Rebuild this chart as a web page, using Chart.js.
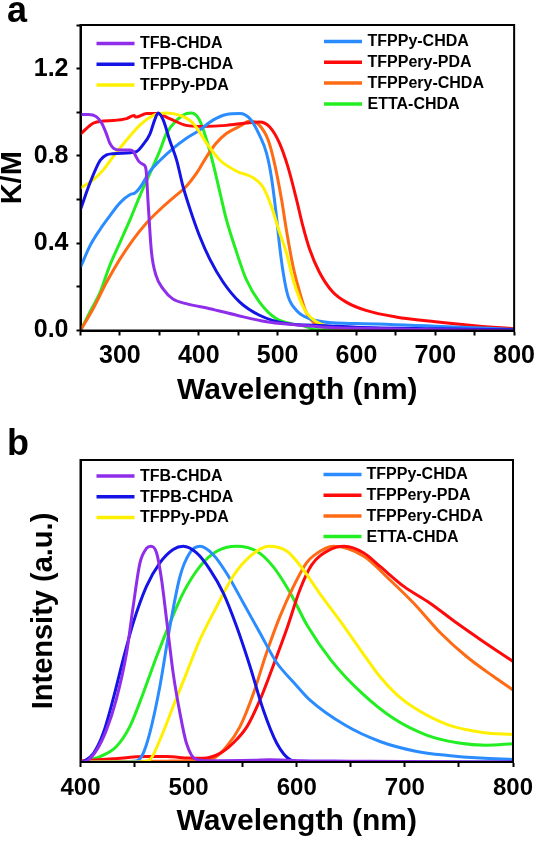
<!DOCTYPE html>
<html><head><meta charset="utf-8">
<script src="https://cdn.jsdelivr.net/npm/chart.js@4.4.1/dist/chart.umd.min.js"></script>
<style>
html,body{margin:0;padding:0;background:#fff;width:541px;height:843px;overflow:hidden;}
#wa{position:absolute;left:0;top:0;width:541px;height:412px;}
#wb{position:absolute;left:0;top:412px;width:541px;height:431px;}
</style></head><body>
<div id="wa"><canvas id="ca" width="541" height="412"></canvas></div>
<div id="wb"><canvas id="cb" width="541" height="431"></canvas></div>
<script>
// ---------- data: panel a (K/M absorption), [wavelength nm, value] ----------
const seriesLabels = ['TFB-CHDA','TFPB-CHDA','TFPPy-PDA','TFPPy-CHDA','TFPPery-PDA','TFPPery-CHDA','ETTA-CHDA'];
const seriesColors = ['#8E2EEA','#1414E6','#FFF000','#2A8CFF','#FF0A0A','#FF6A14','#22EE22'];

const absTFB_CHDA = [[250,0.99],[260,0.99],[270,0.98],[277,0.95],[283,0.9],[287,0.86],[292,0.835],[300,0.827],[313,0.827],[317,0.82],[320,0.8],[324,0.775],[330,0.76],[333,0.74],[336,0.57],[340,0.36],[346,0.25],[355,0.19],[367,0.145],[384,0.123],[414,0.1],[448,0.07],[486,0.04],[519,0.027],[560,0.015],[600,0.01],[700,0.004],[800,0.0]];
const absTFPB_CHDA = [[250,0.555],[262,0.676],[275,0.78],[283,0.805],[291,0.81],[313,0.815],[321,0.82],[329,0.85],[338,0.9],[344,0.964],[348.5,0.997],[355,0.964],[363,0.873],[372,0.78],[380,0.66],[389,0.555],[401,0.433],[414,0.327],[431,0.221],[452,0.13],[477,0.07],[511,0.032],[560,0.022],[600,0.015],[700,0.008],[800,0.003]];
const absTFPPy_PDA = [[250,0.653],[266,0.69],[279,0.736],[291.5,0.797],[308.5,0.873],[325,0.94],[342,0.985],[359,0.997],[376,0.986],[393,0.949],[410,0.858],[427,0.78],[448,0.73],[469,0.7],[481,0.66],[492,0.57],[502.5,0.449],[511,0.358],[519.4,0.236],[528,0.145],[536,0.085],[549,0.04],[562,0.021],[600,0.01],[700,0.004],[800,0.0]];
const absTFPPy_CHDA = [[250,0.29],[262,0.388],[275,0.464],[287,0.524],[300,0.585],[313,0.623],[319,0.63],[325,0.653],[338,0.729],[351,0.78],[367.5,0.835],[384,0.88],[401,0.918],[418,0.964],[435,0.99],[452,0.994],[465,0.97],[477,0.895],[486,0.812],[492,0.706],[498,0.54],[502.5,0.388],[507,0.267],[513,0.16],[524,0.092],[540,0.055],[570,0.035],[600,0.032],[700,0.02],[800,0.005]];
const absTFPPery_PDA = [[250,0.9],[266,0.95],[279,0.96],[291.5,0.962],[308.5,0.971],[318,0.985],[320,0.978],[334,0.994],[346.5,0.994],[363,0.971],[384,0.94],[405,0.935],[435,0.94],[460,0.951],[477,0.956],[490,0.933],[502.5,0.858],[513,0.751],[524,0.6],[532,0.479],[540.5,0.373],[553,0.267],[570,0.176],[587,0.13],[612,0.092],[650,0.062],[700,0.04],[750,0.022],[800,0.008]];
const absTFPPery_CHDA = [[250,0],[266,0.1],[283,0.221],[300,0.327],[317,0.418],[334,0.494],[351,0.555],[367.5,0.608],[384,0.66],[397,0.72],[410,0.797],[422,0.858],[435,0.903],[452,0.936],[465,0.96],[477,0.94],[488,0.873],[496,0.767],[505,0.6],[511,0.464],[519.4,0.297],[528,0.176],[536,0.085],[547,0.032],[557,0.017],[600,0.008],[700,0.003],[800,0]];
const absETTA_CHDA = [[250,0],[262,0.085],[275,0.176],[287,0.297],[300,0.403],[313,0.509],[325,0.615],[338,0.72],[351,0.827],[359,0.903],[372,0.964],[384,0.994],[391,0.997],[401,0.964],[410,0.873],[418,0.767],[427,0.63],[435,0.509],[448,0.358],[460,0.236],[477,0.13],[498,0.055],[536,0.018],[548,0.003],[600,0.002],[800,0.002]];

// ---------- data: panel b (PL intensity, normalised) ----------
const plTFB_CHDA = [[400,0],[405,0.003],[415,0.056],[424,0.149],[433,0.288],[442.6,0.505],[448.7,0.721],[455,0.923],[461,0.99],[465,1.0],[470.4,0.969],[475,0.845],[479.6,0.66],[485.7,0.412],[492,0.226],[498,0.087],[507,0.012],[520,0.006],[560,0.008],[575,0.01],[600,0.006],[650,0.004],[700,0.002],[800,0]];
const plTFPB_CHDA = [[400,0],[404,0.005],[412,0.04],[421,0.133],[430,0.288],[439.4,0.474],[448.7,0.644],[461,0.814],[473.4,0.923],[485.7,0.985],[495,1.0],[507.4,0.969],[519.7,0.892],[532,0.784],[544.4,0.628],[556.8,0.443],[569,0.242],[581.5,0.087],[594,0.01],[600,0.004],[680,0.002],[700,0],[800,0]];
const plTFPPy_PDA = [[400,0],[455,0],[464,0.01],[473.4,0.102],[485.7,0.257],[498,0.412],[510.5,0.567],[526,0.721],[541,0.86],[557,0.954],[574,1.0],[591,0.977],[606,0.892],[620,0.79],[645,0.62],[661,0.505],[677,0.395],[693,0.31],[709,0.25],[740,0.172],[772,0.137],[800,0.127]];
const plTFPPy_CHDA = [[400,0],[450,0.003],[457,0.03],[464,0.133],[473.4,0.35],[482.7,0.628],[492,0.86],[501,0.969],[510.5,1.0],[522.8,0.961],[535,0.876],[550.6,0.737],[566,0.598],[581.5,0.46],[597,0.37],[612,0.288],[645,0.17],[677,0.095],[710,0.05],[740,0.03],[770,0.018],[800,0.012]];
const plTFPPery_PDA = [[400,0.005],[430,0.015],[460,0.025],[480,0.025],[500,0.018],[513,0.017],[529,0.04],[541,0.087],[554,0.164],[566,0.288],[578,0.443],[591,0.62],[603,0.8],[614,0.915],[631,0.985],[644,1.0],[662,0.969],[677,0.907],[699,0.814],[723,0.737],[748,0.644],[770,0.567],[800,0.466]];
const plTFPPery_CHDA = [[400,0.002],[480,0.004],[510,0.006],[523,0.017],[535,0.071],[547.5,0.164],[560,0.319],[572,0.505],[584.5,0.675],[597,0.814],[609,0.923],[616,0.958],[634,1.0],[662,0.954],[686,0.845],[708,0.737],[733,0.598],[757,0.489],[782,0.396],[800,0.334]];
const plETTA_CHDA = [[400,0],[418,0.025],[433,0.071],[445.6,0.164],[458,0.319],[470.4,0.489],[482.7,0.644],[495,0.784],[510.5,0.907],[526,0.977],[544.4,1.0],[563,0.977],[578,0.907],[594,0.784],[610,0.63],[632,0.47],[660,0.32],[690,0.2],[720,0.125],[750,0.088],[775,0.078],[800,0.085]];

// axis ranges
const absXRange = [250, 800];
const absYRange = [0, 1.4];
const plXRange = [400, 800];
const plYRange = [0, 1.4];

const FAM = '"Liberation Sans", Arial, Helvetica, sans-serif';
Chart.defaults.font.family = FAM;
Chart.defaults.color = '#000';

const toPts = arr => arr.map(p => ({x: p[0], y: p[1]}));
function makeDatasets(list){
  return list.map((arr, i) => ({
    label: seriesLabels[i], data: toPts(arr), borderColor: seriesColors[i], backgroundColor: seriesColors[i],
    borderWidth: 3, pointRadius: 0, fill: false, cubicInterpolationMode: 'monotone'
  }));
}

const framePlugin = {
  id: 'frame',
  afterDraw(chart){
    const a = chart.chartArea, ctx = chart.ctx;
    ctx.save(); ctx.strokeStyle = '#000'; ctx.lineWidth = 2;
    ctx.strokeRect(a.left, a.top, a.right - a.left, a.bottom - a.top);
    ctx.restore();
  }
};
const colLegend = {
  id: 'colLegend',
  afterDraw(chart, args, o){
    const ctx = chart.ctx; ctx.save();
    ctx.font = 'bold 16px ' + FAM; ctx.textBaseline = 'middle'; ctx.fillStyle = '#000';
    chart.data.datasets.forEach((ds, i) => {
      const col = i < o.split ? 0 : 1;
      const row = col === 0 ? i : i - o.split;
      const c = o.columns[col];
      const y = c.y + row * o.gap;
      ctx.strokeStyle = ds.borderColor; ctx.lineWidth = 3.5; ctx.lineCap = 'butt';
      ctx.beginPath(); ctx.moveTo(c.x0, y); ctx.lineTo(c.x1, y); ctx.stroke();
      ctx.fillText(ds.label, c.tx, y + 0.5);
    });
    ctx.restore();
  }
};
const panelLabel = {
  id: 'panelLabel',
  afterDraw(chart, args, o){
    const ctx = chart.ctx; ctx.save();
    ctx.font = 'bold 36px ' + FAM; ctx.textBaseline = 'alphabetic'; ctx.fillStyle = '#000';
    ctx.fillText(o.text, o.x, o.y); ctx.restore();
  }
};

function xAxis(range, size, pad, h, titlePad){
  return {
    type: 'linear', min: range[0], max: range[1],
    ticks: {stepSize: 50, autoSkip: false, maxRotation: 0, padding: pad, color: '#000',
      font: {size: size, weight: 'bold'}, callback: v => (v % 100 === 0 ? String(v) : '')},
    grid: {display: true, drawOnChartArea: false, drawTicks: true, tickLength: 5, tickWidth: 2, tickColor: '#000'},
    border: {display: true, color: '#000', width: 2},
    title: {display: true, text: 'Wavelength (nm)', color: '#000', font: {size: 30, weight: 'bold', lineHeight: 1}, padding: {top: 0, bottom: titlePad}},
    afterFit(s){ s.height = h; }
  };
}

new Chart(document.getElementById('ca'), {
  type: 'line',
  data: {datasets: makeDatasets([absTFB_CHDA, absTFPB_CHDA, absTFPPy_PDA, absTFPPy_CHDA, absTFPPery_PDA, absTFPPery_CHDA, absETTA_CHDA])},
  options: {
    responsive: false, animation: false, devicePixelRatio: 1,
    layout: {padding: {top: 25, right: 26, bottom: 0, left: 0}},
    plugins: {legend: {display: false}, tooltip: {enabled: false},
      colLegend: {split: 3, gap: 20.8, columns: [{x0: 96.5, x1: 134.5, tx: 140, y: 43.5}, {x0: 324, x1: 362, tx: 367.5, y: 41.5}]},
      panelLabel: {text: 'a', x: 7, y: 21.5}},
    scales: {
      x: xAxis(absXRange, 25, 6, 412 - 330.5, 6),
      y: {
        min: absYRange[0], max: absYRange[1],
        ticks: {stepSize: 0.2, padding: 8, color: '#000', font: {size: 25, weight: 'bold'},
          callback: v => (Math.round(v * 10) % 4 === 0 ? v.toFixed(1) : '')},
        grid: {display: true, drawOnChartArea: false, drawTicks: true, tickLength: 4, tickWidth: 2, tickColor: '#000'},
        border: {display: true, color: '#000', width: 2},
        title: {display: true, text: 'K/M', color: '#000', font: {size: 29, weight: 'bold', lineHeight: 0.87}, padding: {top: 0, bottom: 0}},
        afterFit(s){ s.width = 80.5; }
      }
    }
  },
  plugins: [framePlugin, colLegend, panelLabel]
});

new Chart(document.getElementById('cb'), {
  type: 'line',
  data: {datasets: makeDatasets([plTFB_CHDA, plTFPB_CHDA, plTFPPy_PDA, plTFPPy_CHDA, plTFPPery_PDA, plTFPPery_CHDA, plETTA_CHDA])},
  options: {
    responsive: false, animation: false, devicePixelRatio: 1,
    layout: {padding: {top: 48, right: 28, bottom: 0, left: 0}},
    plugins: {legend: {display: false}, tooltip: {enabled: false},
      colLegend: {split: 3, gap: 20.7, columns: [{x0: 96.5, x1: 134.5, tx: 140, y: 64}, {x0: 323.5, x1: 361.5, tx: 366.5, y: 62.5}]},
      panelLabel: {text: 'b', x: 7, y: 43}},
    scales: {
      x: xAxis(plXRange, 24, 7, 431 - 350, 6.3),
      y: {
        min: plYRange[0], max: plYRange[1],
        ticks: {display: false},
        grid: {display: false},
        border: {display: true, color: '#000', width: 2},
        title: {display: true, text: 'Intensity (a.u.)', color: '#000', font: {size: 29, weight: 'bold', lineHeight: 1}, padding: {top: 29.5, bottom: 0}},
        afterFit(s){ s.width = 80.5; }
      }
    }
  },
  plugins: [framePlugin, colLegend, panelLabel]
});
</script>
</body></html>
